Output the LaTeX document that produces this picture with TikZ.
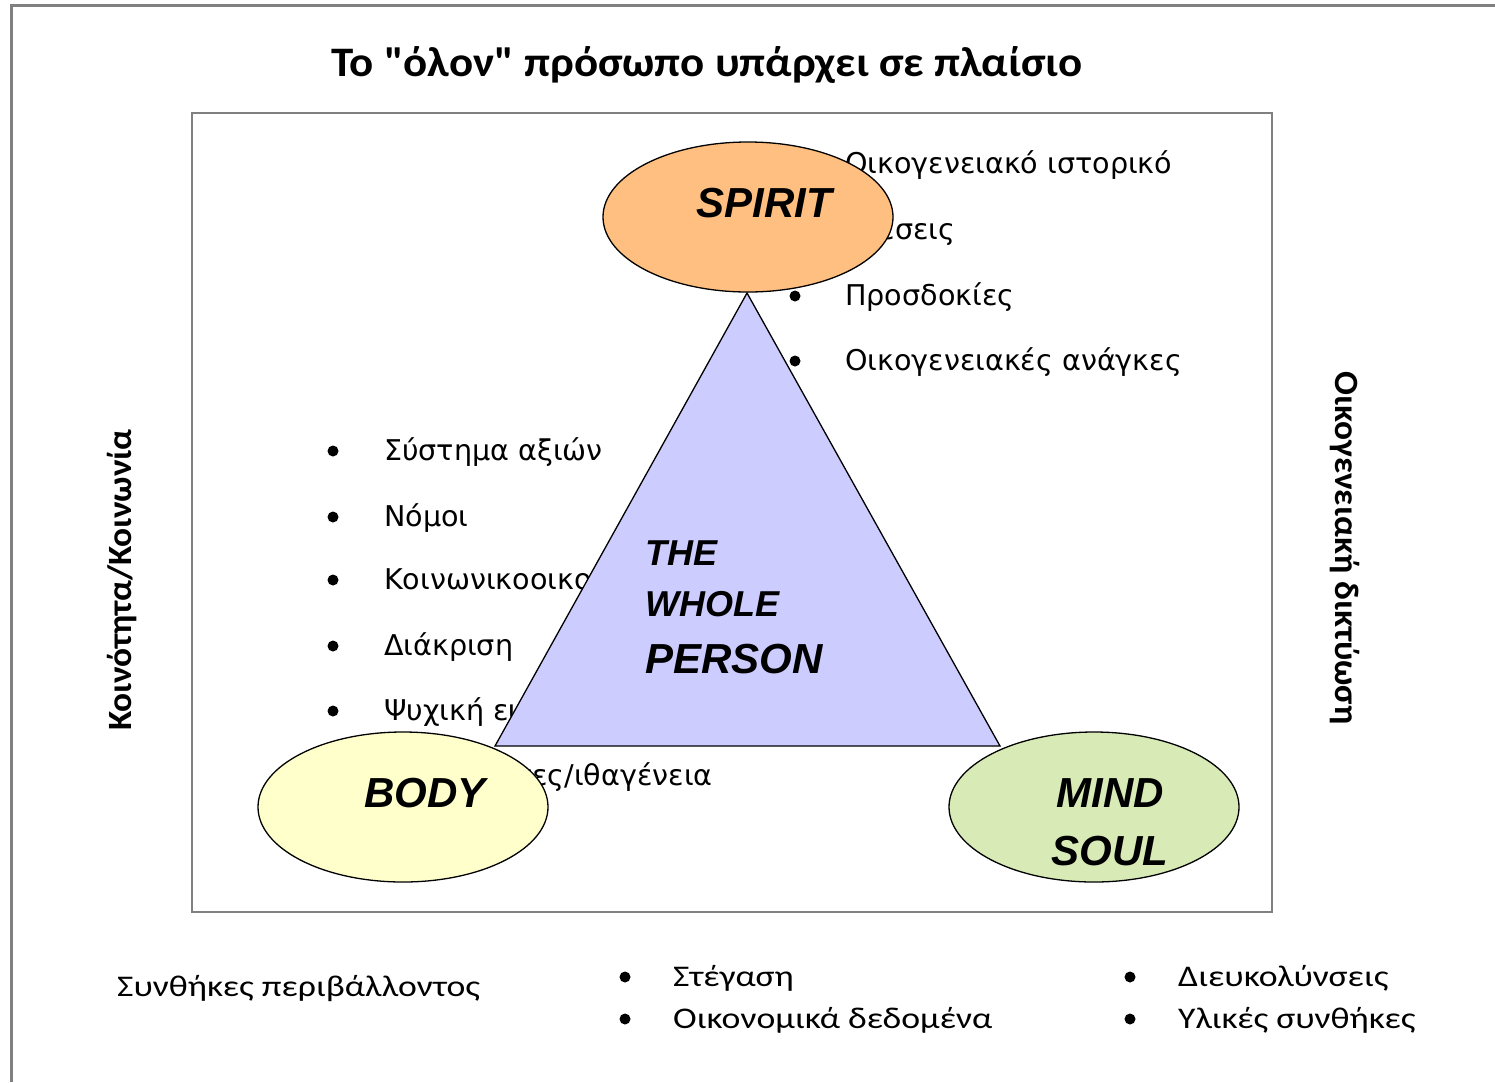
\documentclass[tikz,border=0pt]{standalone}
\usepackage{fontspec}
\setmainfont{DejaVu Sans}
\newfontfamily\calfont[FakeStretch=1.19]{Carlito}
\newfontfamily\titlefont[FakeStretch=1.07]{Carlito}
\newfontfamily\sidefont[FakeStretch=1.04]{Carlito}
\newfontfamily\arfont{Liberation Sans}
\usetikzlibrary{shapes.geometric}
\definecolor{spiritc}{RGB}{255,191,128}
\definecolor{bodyc}{RGB}{255,255,204}
\definecolor{mindc}{RGB}{216,234,182}
\definecolor{lavc}{RGB}{204,204,255}
\definecolor{framec}{RGB}{128,128,128}
\begin{document}
\begin{tikzpicture}[x=1pt,y=-1pt,
 lst/.style={anchor=west, inner sep=0pt, text height=0.75em, text depth=0.25em, font=\fontsize{28.6}{34}\selectfont},
 bul/.style={circle, fill=black, inner sep=0pt, minimum size=11pt},
 lbl/.style={inner sep=0pt, font=\arfont\bfseries\itshape\fontsize{42}{48}\selectfont},
 lbls/.style={inner sep=0pt, anchor=base west, font=\arfont\bfseries\itshape\fontsize{36}{42}\selectfont},
 bot/.style={anchor=west, inner sep=0pt, text height=0.75em, text depth=0.25em, font=\calfont\fontsize{30}{36}\selectfont},
 oval/.style={ellipse, draw=black, line width=1.3pt, minimum width=290pt, minimum height=150pt, inner sep=0pt},
 side/.style={inner sep=0pt, font=\sidefont\bfseries\fontsize{34}{40}\selectfont}
]
\useasboundingbox (0,0) rectangle (1495,1082);
\fill[white] (0,0) rectangle (1495,1082);
\coordinate (o1) at (11,1082);
\coordinate (o2) at (11,5);
\coordinate (o3) at (1495,5);
\draw[framec, line width=3pt] (o1) -- (o2) -- (o3);
\node[inner sep=0pt, font=\titlefont\bfseries\fontsize{42}{48}\selectfont] (title) at (707,65) {Το "όλον" πρόσωπο υπάρχει σε πλαίσιο};
\node[draw=framec, line width=2.5pt, minimum width=1080pt, minimum height=799pt, inner sep=0pt] (frame) at (732,512.5) {};

% right list
\node[bul] (rb1) at (795,164) {};
\node[bul] (rb2) at (795,230) {};
\node[bul] (rb3) at (795,296) {};
\node[bul] (rb4) at (795,361) {};
\node[lst] (r1) at (845,171) {Οικογενειακό ιστορικό};
\node[lst] (r2) at (845,237) {Σχέσεις};
\node[lst] (r3) at (845,303) {Προσδοκίες};
\node[lst] (r4) at (845,368) {Οικογενειακές ανάγκες};

% left list
\node[bul] (lb1) at (333,451) {};
\node[bul] (lb2) at (333,517) {};
\node[bul] (lb3) at (333,580) {};
\node[bul] (lb4) at (333,646) {};
\node[bul] (lb5) at (333,711) {};
\node[bul] (lb6) at (333,776) {};
\node[lst] (l1) at (384,458) {Σύστημα αξιών};
\node[lst] (l2) at (384,524) {Νόμοι};
\node[lst] (l3) at (384,587) {Κοινωνικοοικονομική κατάσταση};
\node[lst] (l4) at (384,653) {Διάκριση};
\node[lst] (l5) at (384,718) {Ψυχική ευεξία};
\node[lst] (l6) at (384,783) {Εθνικότητες/ιθαγένεια};

% triangle
\coordinate (apex) at (747,293);
\coordinate (tbl) at (495,746);
\coordinate (tbr) at (1000,746);
\draw[fill=lavc, line width=1.3pt, line join=miter] (apex) -- (tbl) -- (tbr) -- cycle;
\node[lbls] (the) at (645,565) {THE};
\node[lbls] (whole) at (645,616) {WHOLE};
\node[lbl, anchor=base west] (person) at (645,673) {PERSON};

% ellipses
\node[oval, fill=spiritc] (spirit) at (748,217) {};
\node[oval, fill=bodyc] (body) at (403,807) {};
\node[oval, fill=mindc] (mind) at (1094,807) {};
\node[lbl] (spiritt) at (764,203) {SPIRIT};
\node[lbl] (bodyt) at (425,793) {BODY};
\node[lbl] (mindt) at (1110,793) {MIND};
\node[lbl] (soult) at (1110,851) {SOUL};

% side labels
\node[side, rotate=90] (comm) at (122,580) {Κοινότητα/Κοινωνία};
\node[side, rotate=-90] (fam) at (1345,548) {Οικογενειακή δικτύωση};

% bottom
\node[bot] (env) at (117,994) {Συνθήκες περιβάλλοντος};
\node[bul] (bb1) at (625,977) {};
\node[bul] (bb2) at (625,1019) {};
\node[bul] (bb3) at (1130,977) {};
\node[bul] (bb4) at (1130,1019) {};
\node[bot] (b1) at (673,984) {Στέγαση};
\node[bot] (b2) at (673,1026) {Οικονομικά δεδομένα};
\node[bot] (b3) at (1178,984) {Διευκολύνσεις};
\node[bot] (b4) at (1178,1026) {Υλικές συνθήκες};
\end{tikzpicture}
\end{document}
